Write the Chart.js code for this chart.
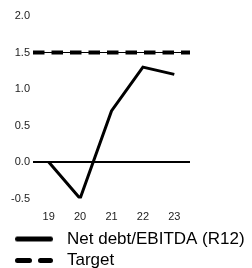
<!DOCTYPE html>
<html>
<head>
<meta charset="utf-8">
<script src="https://cdn.jsdelivr.net/npm/chart.js@4/dist/chart.umd.min.js"></script>
<style>
html,body{margin:0;padding:0;background:#fff;overflow:hidden;}
#wrap{width:252px;height:279px;}
canvas{display:block;}
</style>
</head>
<body>
<div id="wrap"><canvas id="c" width="252" height="279" style="width:252px;height:279px"></canvas></div>
<script>
const years = [19, 20, 21, 22, 23];
const netDebtEbitda = [0.0, -0.5, 0.7, 1.3, 1.2];
const targetValue = 1.5;
const targetSpan = [18.5, 23.5];
const seriesNames = ['Net debt/EBITDA (R12)', 'Target'];
const yTicks = [-0.5, 0.0, 0.5, 1.0, 1.5, 2.0];

const FONT = '"Liberation Sans", Arial, sans-serif';

function marker(dashed) {
  const cv = document.createElement('canvas');
  cv.width = 38; cv.height = 7;
  const g = cv.getContext('2d');
  g.strokeStyle = '#000';
  g.lineWidth = 5;
  g.lineCap = 'round';
  if (dashed) g.setLineDash([12, 11]);
  g.beginPath();
  g.moveTo(2.5, 3.5);
  g.lineTo(35.5, 3.5);
  g.stroke();
  return cv;
}
const markers = [marker(false), marker(true)];

new Chart(document.getElementById('c'), {
  type: 'line',
  data: {
    datasets: [
      {
        label: seriesNames[0],
        data: years.map((y, i) => ({x: y, y: netDebtEbitda[i]})),
        borderColor: '#000',
        backgroundColor: '#000',
        borderWidth: 3,
        pointRadius: 0,
        tension: 0,
        order: 1
      },
      {
        label: seriesNames[1],
        data: targetSpan.map(x => ({x: x, y: targetValue})),
        borderColor: '#000',
        backgroundColor: '#000',
        borderWidth: 4,
        borderDash: [11.5, 7],
        pointRadius: 0,
        order: 2
      }
    ]
  },
  options: {
    responsive: false,
    devicePixelRatio: 1,
    animation: false,
    layout: {padding: {top: 16, left: 5, right: 0, bottom: 0}},
    plugins: {
      tooltip: {enabled: false},
      legend: {
        position: 'bottom',
        align: 'start',
        labels: {
          font: {family: FONT, size: 17},
          color: '#111',
          padding: 4.5,
          usePointStyle: true,
          pointStyleWidth: 49,
          generateLabels: (chart) => chart.data.datasets.map((ds, i) => ({
            text: ds.label,
            fillStyle: '#000',
            strokeStyle: '#000',
            lineWidth: 0,
            pointStyle: markers[i],
            datasetIndex: i,
            hidden: false
          }))
        }
      }
    },
    scales: {
      x: {
        type: 'linear',
        min: targetSpan[0],
        max: targetSpan[1],
        afterBuildTicks: (s) => { s.ticks = years.map(v => ({value: v})); },
        ticks: {
          font: {family: FONT, size: 11},
          color: '#222',
          padding: 4,
          maxRotation: 0,
          callback: (v) => String(v)
        },
        grid: {display: false},
        border: {display: false},
        afterFit: (s) => { s.height = 27.5; }
      },
      y: {
        min: yTicks[0],
        max: yTicks[yTicks.length - 1],
        afterBuildTicks: (s) => { s.ticks = yTicks.map(v => ({value: v})); },
        ticks: {
          font: {family: FONT, size: 11},
          color: '#222',
          padding: 3,
          callback: (v) => Number(v).toFixed(1)
        },
        grid: {
          drawTicks: false,
          color: (ctx) => (ctx.tick && (ctx.tick.value === 0 || ctx.tick.value === targetValue)) ? '#000' : 'rgba(0,0,0,0)',
          lineWidth: (ctx) => (ctx.tick && ctx.tick.value === 0) ? 2 : 1
        },
        border: {display: false},
        afterFit: (s) => { s.width = 28; }
      },
      y2: {
        position: 'right',
        display: true,
        ticks: {display: false},
        grid: {display: false},
        border: {display: false},
        afterFit: (s) => { s.width = 62; }
      }
    }
  }
});
</script>
</body>
</html>
